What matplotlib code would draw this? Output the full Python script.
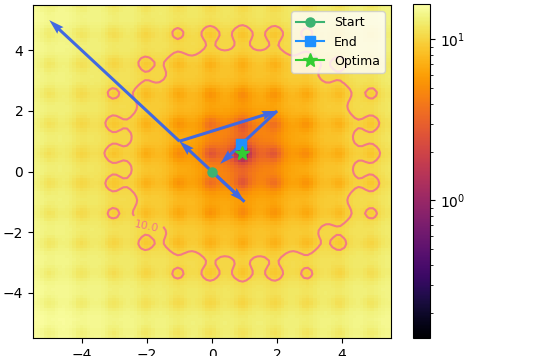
import numpy as np
import matplotlib
matplotlib.use("Agg")
import matplotlib.pyplot as plt
from matplotlib.colors import LogNorm

# shifted ackley surface
lim=5.5
n_grid=100
optima=(0.93,0.6)
level=10.0

# optimiser steps (from -> to)
step_x0=[0,1,-1,-1,2]
step_y0=[0,-1,1,1,2]
step_x1=[1,-1,-5,2,0.25]
step_y1=[-1,1,5,2,0.25]

start=(0,0)
end=(0.9,0.9)

def ackley(x,y):
    dx,dy=x-optima[0],y-optima[1]
    a=-20*np.exp(-0.2*np.sqrt(0.5*(dx**2+dy**2)))
    b=-np.exp(0.5*(np.cos(2*np.pi*dx)+np.cos(2*np.pi*dy)))
    return a+b+np.e+20

g=np.linspace(-lim,lim,n_grid)
X,Y=np.meshgrid(g,g)
Z=ackley(X,Y)

fig=plt.figure(figsize=(5.38,3.56),dpi=100)
ax=fig.add_axes([33/538,18/356,358/538,333/356])
cax=fig.add_axes([413/538,18/356,17/538,334/356])

im=ax.imshow(Z,origin="lower",extent=[-lim,lim,-lim,lim],aspect="auto",
             cmap="inferno",norm=LogNorm(vmin=0.14,vmax=16.6))
cs=ax.contour(X,Y,Z,levels=[level],colors="#f27a86",linewidths=1.5)
ax.clabel(cs,fmt="%.1f",fontsize=8,manual=[(-2.0,-1.8)])

u=np.array(step_x1)-np.array(step_x0)
v=np.array(step_y1)-np.array(step_y0)
ax.quiver(step_x0,step_y0,u,v,angles="xy",scale_units="xy",scale=1,
          color="royalblue",width=0.0085,zorder=3)

ax.plot(start[0],start[1],"o-",color="mediumseagreen",ms=6.5,label="Start",zorder=4)
ax.plot(end[0],end[1],"s-",color="dodgerblue",ms=6.5,label="End",zorder=4)
ax.plot(optima[0],optima[1],"*-",color="limegreen",ms=10,label="Optima",zorder=5)

ax.set_xlim(-lim,lim)
ax.set_ylim(-lim,lim)
ax.set_xticks([-4,-2,0,2,4])
ax.set_yticks([-4,-2,0,2,4])
ax.legend(loc="upper right",fontsize=9,handlelength=2.2)
fig.colorbar(im,cax=cax)

fig.savefig("out.png",dpi=100)
